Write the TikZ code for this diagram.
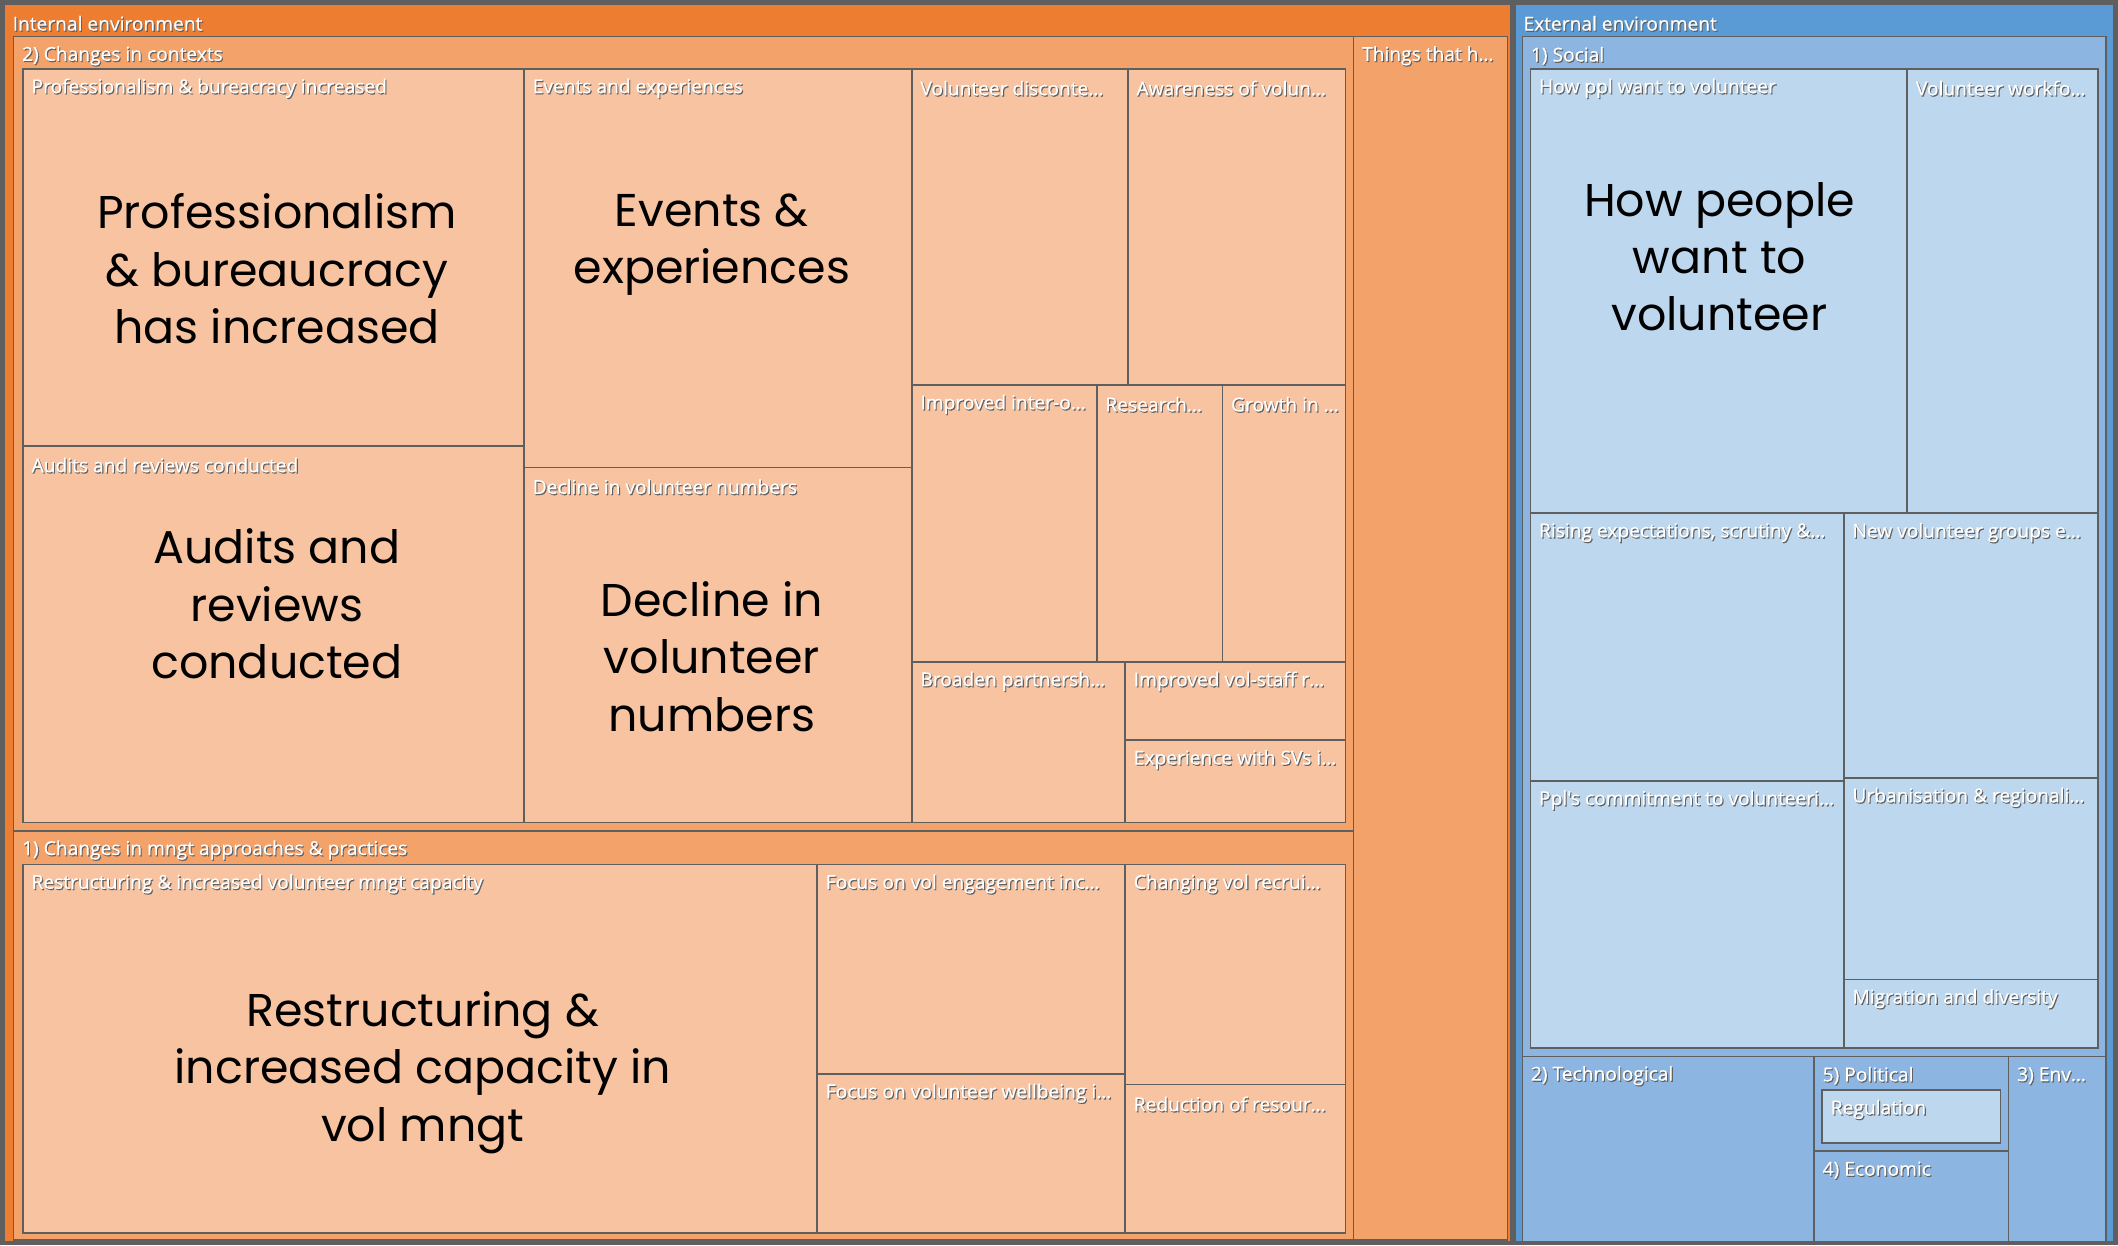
\documentclass[tikz,border=0pt]{standalone}
\usepackage{fontspec}
\setmainfont{Open Sans}
\newfontfamily\lblfont{Open Sans}[FakeBold=0.35]
\newfontfamily\bigfont{Poppins}
\definecolor{orgH}{HTML}{ED7D31}
\definecolor{orgG}{HTML}{F3A26A}
\definecolor{orgL}{HTML}{F8C3A0}
\definecolor{bluH}{HTML}{5B9BD5}
\definecolor{bluG}{HTML}{8DB5E2}
\definecolor{bluL}{HTML}{BDD7EE}
\definecolor{edge}{HTML}{5F5F5F}
\tikzset{
 boxline/.style={draw=edge, line width=0.6pt},
 lbl/.style={anchor=west, inner sep=0pt, text=white, font=\lblfont\fontsize{7.1}{8}\selectfont},
 lblsh/.style={lbl, text=black!62},
 big/.style={align=center, inner sep=0pt, font=\bigfont\fontsize{17}{21.25}\selectfont, text=black},
}
\newcommand\tm[7]{%
  \draw[boxline, fill=#6] (#2,#3) rectangle (#4,#5);
  \node[lblsh] (#1-sh) at ({#2+6.8},{#3+15.2}) {#7};
  \node[lbl] (#1) at ({#2+6},{#3+14.3}) {#7};
}
\begin{document}
\begin{tikzpicture}[x=0.5pt,y=-0.5pt]
\useasboundingbox (0,0) rectangle (1568,922);
\fill[edge] (0,0) rectangle (1568,922);
% internal environment
\tm{internal}{3}{3}{1118.5}{919.5}{orgH}{Internal environment}
\tm{ctx}{10}{27}{1002}{615}{orgG}{2) Changes in contexts}
\tm{things}{1002}{27}{1116}{918}{orgG}{Things that h…}
\tm{mngt}{10}{615}{1002}{918}{orgG}{1) Changes in mngt approaches \& practices}
\tm{prof}{17}{51}{388}{330}{orgL}{Professionalism \& bureacracy increased}
\tm{audit}{17}{330}{388}{609}{orgL}{Audits and reviews conducted}
\tm{events}{388}{51}{675}{346}{orgL}{Events and experiences}
\tm{decline}{388}{346}{675}{609}{orgL}{Decline in volunteer numbers}
\tm{discon}{675}{51}{835}{285}{orgL}{Volunteer disconte…}
\tm{aware}{835}{51}{996}{285}{orgL}{Awareness of volun…}
\tm{inter}{675}{285}{812}{490}{orgL}{Improved inter-o…}
\tm{research}{812}{285}{905}{490}{orgL}{Research…}
\tm{growth}{905}{285}{996}{490}{orgL}{Growth in …}
\tm{broaden}{675}{490}{833}{609}{orgL}{Broaden partnersh…}
\tm{volstaff}{833}{490}{996}{548}{orgL}{Improved vol-staff r…}
\tm{svs}{833}{548}{996}{609}{orgL}{Experience with SVs i…}
\tm{restr}{17}{640}{605}{913}{orgL}{Restructuring \& increased volunteer mngt capacity}
\tm{engage}{605}{640}{833}{795}{orgL}{Focus on vol engagement inc…}
\tm{wellb}{605}{795}{833}{913}{orgL}{Focus on volunteer wellbeing i…}
\tm{recru}{833}{640}{996}{803}{orgL}{Changing vol recrui…}
\tm{reduc}{833}{803}{996}{913}{orgL}{Reduction of resour…}
% external environment
\tm{external}{1121.5}{3}{1565}{919.5}{bluH}{External environment}
\tm{social}{1127}{27}{1559}{782}{bluG}{1) Social}
\tm{howppl}{1133}{51}{1412}{380}{bluL}{How ppl want to volunteer}
\tm{workf}{1412}{51}{1553}{380}{bluL}{Volunteer workfo…}
\tm{rising}{1133}{380}{1365}{578}{bluL}{Rising expectations, scrutiny \&…}
\tm{commit}{1133}{578}{1365}{776}{bluL}{Ppl's commitment to volunteeri…}
\tm{newgrp}{1365}{380}{1553}{576}{bluL}{New volunteer groups e…}
\tm{urban}{1365}{576}{1553}{725}{bluL}{Urbanisation \& regionali…}
\tm{migr}{1365}{725}{1553}{776}{bluL}{Migration and diversity}
\tm{tech}{1127}{782}{1343}{919}{bluG}{2) Technological}
\tm{polit}{1343}{782}{1487}{852}{bluG}{5) Political}
\tm{regul}{1349}{807}{1481}{846}{bluL}{Regulation}
\tm{econ}{1343}{852}{1487}{919}{bluG}{4) Economic}
\tm{env}{1487}{782}{1559}{919}{bluG}{3) Env…}
% big texts
\node[big] (profbig) at (205,199) {Professionalism\\\& bureaucracy\\has increased};
\node[big] (auditbig) at (205,447) {Audits and\\reviews\\conducted};
\node[big] (eventsbig) at (527,181) {Events \&\\experiences};
\node[big] (declinebig) at (527,486) {Decline in\\volunteer\\numbers};
\node[big] (howbig) at (1273,190) {How people\\want to\\volunteer};
\node[big] (restrbig) at (313,794) {Restructuring \&\\increased capacity in\\vol mngt};
\end{tikzpicture}
\end{document}
